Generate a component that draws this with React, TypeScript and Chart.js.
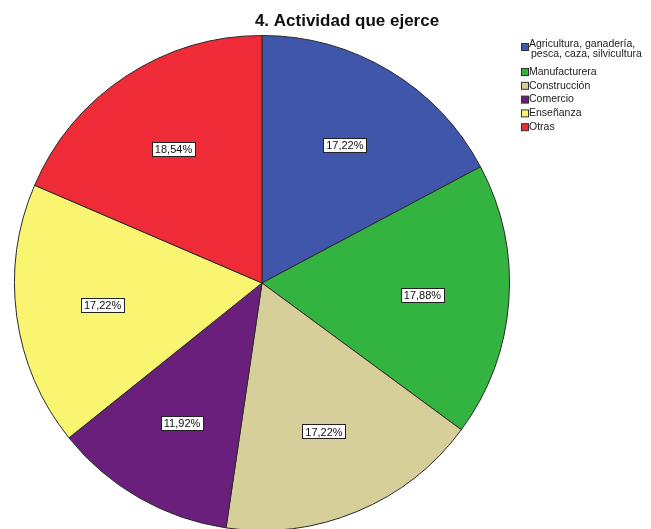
import React, { useEffect, useRef } from "react";
import { Chart, registerables } from "chart.js";

Chart.register(...registerables);

const TITLE = "4. Actividad que ejerce";
const categories = [
  ["Agricultura, ganadería,", "pesca, caza, silvicultura"],
  ["Manufacturera"],
  ["Construcción"],
  ["Comercio"],
  ["Enseñanza"],
  ["Otras"],
];
const values = [17.22, 17.88, 17.22, 11.92, 17.22, 18.54];
const colors = ["#3F56AA", "#33B440", "#D6CF99", "#6B1F7D", "#FAF571", "#EE2B36"];

const labelPlugin = {
  id: "customLabels",
  afterDatasetsDraw(chart: any) {
    const ctx = chart.ctx;
    const meta = chart.getDatasetMeta(0);
    ctx.save();
    ctx.font = "11px Arial, 'Liberation Sans', sans-serif";
    ctx.textAlign = "center";
    ctx.textBaseline = "middle";
    meta.data.forEach((arc: any, i: number) => {
      const mid = (arc.startAngle + arc.endAngle) / 2;
      const r = arc.outerRadius * 0.65;
      const x = arc.x + Math.cos(mid) * r;
      const y = arc.y + Math.sin(mid) * r;
      const txt = values[i].toFixed(2).replace(".", ",") + "%";
      const w = Math.round(ctx.measureText(txt).width + 6);
      const h = 14;
      const bx = Math.round(x - w / 2) + 0.5;
      const by = Math.round(y - h / 2) + 0.5;
      ctx.fillStyle = "#ffffff";
      ctx.fillRect(bx, by, w, h);
      ctx.strokeStyle = "#222222";
      ctx.lineWidth = 1;
      ctx.strokeRect(bx, by, w, h);
      ctx.fillStyle = "#111111";
      ctx.fillText(txt, x, y + 1);
    });
    // title
    ctx.font = "bold 17px Arial, 'Liberation Sans', sans-serif";
    ctx.fillStyle = "#111111";
    ctx.textAlign = "center";
    ctx.fillText(TITLE, 347, 21);
    // legend
    ctx.font = "10.5px Arial, 'Liberation Sans', sans-serif";
    ctx.textAlign = "left";
    let y = 47;
    categories.forEach((lines, i) => {
      ctx.fillStyle = colors[i];
      ctx.fillRect(521.5, y - 3.5, 7, 7);
      ctx.strokeStyle = "#333333";
      ctx.strokeRect(521.5, y - 3.5, 7, 7);
      ctx.fillStyle = "#222222";
      lines.forEach((ln, j) => {
        ctx.fillText(ln, 529 + j * 2, y - (lines.length > 1 ? 3 : 0) + j * 10);
      });
      y += lines.length > 1 ? 25 : 13.8;
    });
    ctx.restore();
  },
};

export default function App() {
  const ref = useRef<HTMLCanvasElement>(null);
  useEffect(() => {
    const chart = new Chart(ref.current!, {
      type: "pie",
      data: {
        labels: categories.map((c) => c.join(" ")),
        datasets: [
          {
            data: values,
            backgroundColor: colors,
            borderColor: "#2a2a2a",
            borderWidth: 1,
          },
        ],
      },
      options: {
        animation: false,
        responsive: false,
        layout: { padding: { left: 14, right: 141, top: 35, bottom: 9 } },
        plugins: {
          legend: { display: false },
          tooltip: { enabled: false },
          title: { display: false },
        },
      },
      plugins: [labelPlugin],
    });
    return () => chart.destroy();
  }, []);
  return (
    <div style={{ position: "absolute", left: 0, top: 0, width: 651, height: 529, overflow: "hidden", background: "#fff" }}>
      <canvas ref={ref} width={651} height={540} style={{ width: 651, height: 540, display: "block" }} />
    </div>
  );
}
